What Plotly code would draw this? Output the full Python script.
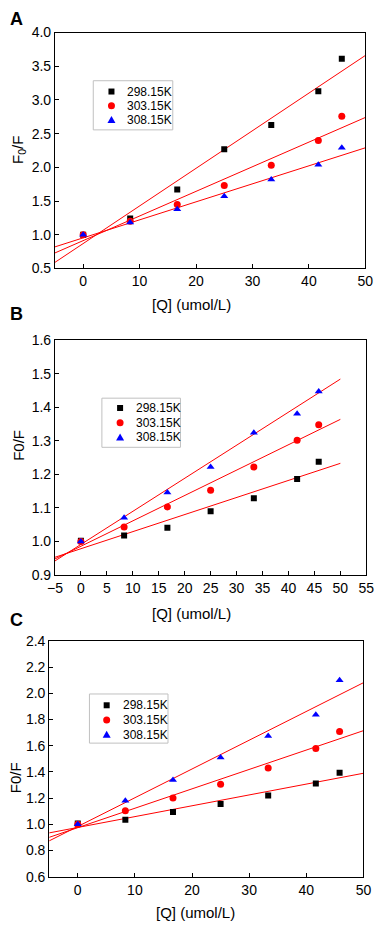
import plotly.graph_objects as go

# ---------------- data ----------------
conc = [0, 8.33, 16.67, 25, 33.33, 41.67, 45.83]
series_names = ["298.15K", "303.15K", "308.15K"]

# Panel A
a_298 = [1.00, 1.24, 1.67, 2.27, 2.63, 3.13, 3.61]
a_303 = [1.00, 1.20, 1.45, 1.73, 2.03, 2.40, 2.76]
a_308 = [1.00, 1.18, 1.38, 1.57, 1.82, 2.04, 2.29]
a_fit_x = [-5, 50]
a_fit_298 = [0.59, 3.66]
a_fit_303 = [0.73, 2.74]
a_fit_308 = [0.82, 2.29]

# Panel B
b_298 = [1.002, 1.018, 1.041, 1.090, 1.129, 1.186, 1.238]
b_303 = [1.000, 1.043, 1.103, 1.153, 1.222, 1.302, 1.348]
b_308 = [1.000, 1.071, 1.146, 1.222, 1.324, 1.381, 1.447]
b_fit_x = [-5, 50]
b_fit_298 = [0.953, 1.233]
b_fit_303 = [0.948, 1.364]
b_fit_308 = [0.942, 1.484]

# Panel C
c_298 = [1.006, 1.036, 1.095, 1.155, 1.220, 1.312, 1.394]
c_303 = [1.000, 1.103, 1.202, 1.307, 1.431, 1.578, 1.708]
c_308 = [1.000, 1.180, 1.339, 1.511, 1.675, 1.837, 2.099]
c_fit_x = [-5, 50]
c_fit_298 = [0.935, 1.390]
c_fit_303 = [0.901, 1.715]
c_fit_308 = [0.874, 2.081]

W, H = 381, 929
FONT = "Liberation Sans, Arial, sans-serif"

marker_styles = [
    dict(symbol="square", color="black", size=6),
    dict(symbol="circle", color="red", size=7),
    dict(symbol="triangle-up", color="blue", size=7),
]

fig = go.Figure()

panels = [
    dict(ax="", data=[a_298, a_303, a_308], fx=a_fit_x,
         fits=[a_fit_298, a_fit_303, a_fit_308]),
    dict(ax="2", data=[b_298, b_303, b_308], fx=b_fit_x,
         fits=[b_fit_298, b_fit_303, b_fit_308]),
    dict(ax="3", data=[c_298, c_303, c_308], fx=c_fit_x,
         fits=[c_fit_298, c_fit_303, c_fit_308]),
]

for p in panels:
    xa, ya = "x" + p["ax"], "y" + p["ax"]
    for fy in p["fits"]:
        fig.add_trace(go.Scatter(x=p["fx"], y=fy, mode="lines", xaxis=xa, yaxis=ya,
                                 line=dict(color="red", width=1), showlegend=False,
                                 hoverinfo="skip"))
    for name, ys, ms in zip(series_names, p["data"], marker_styles):
        fig.add_trace(go.Scatter(x=conc, y=ys, mode="markers", name=name, xaxis=xa, yaxis=ya,
                                 marker=dict(symbol=ms["symbol"], color=ms["color"],
                                             size=ms["size"], line=dict(width=0)),
                                 showlegend=False))

def px_x(a, b):
    return [a / W, b / W]

def px_y(top, bottom):
    return [1 - bottom / H, 1 - top / H]

axis_common = dict(showgrid=False, zeroline=False, showline=True, linecolor="black",
                   linewidth=1, mirror=True, ticks="inside", ticklen=4, tickcolor="black",
                   tickwidth=1, tickfont=dict(family=FONT, size=14, color="black"))

fig.update_layout(
    width=W, height=H,
    margin=dict(l=0, r=0, t=0, b=0),
    paper_bgcolor="white", plot_bgcolor="white",
    font=dict(family=FONT, color="black"),
    showlegend=False,
    xaxis=dict(domain=px_x(49, 373), range=[-5, 50], tickvals=[0, 10, 20, 30, 40, 50],
               anchor="y", **axis_common),
    yaxis=dict(domain=px_y(25, 265), range=[0.5, 4.0], tickvals=[0.5, 1.0, 1.5, 2.0, 2.5, 3.0, 3.5, 4.0],
               ticktext=["0.5", "1.0", "1.5", "2.0", "2.5", "3.0", "3.5", "4.0"], anchor="x", **axis_common),
    xaxis2=dict(domain=px_x(49, 374), range=[-5, 55], tickvals=list(range(-5, 56, 5)),
                anchor="y2", **axis_common),
    yaxis2=dict(domain=px_y(338, 577), range=[0.9, 1.6], tickvals=[0.9, 1.0, 1.1, 1.2, 1.3, 1.4, 1.5, 1.6],
                ticktext=["0.9", "1.0", "1.1", "1.2", "1.3", "1.4", "1.5", "1.6"], anchor="x2", **axis_common),
    xaxis3=dict(domain=px_x(43, 371), range=[-5, 50], tickvals=[0, 10, 20, 30, 40, 50],
                anchor="y3", **axis_common),
    yaxis3=dict(domain=px_y(644, 884), range=[0.6, 2.4], tickvals=[0.6, 0.8, 1.0, 1.2, 1.4, 1.6, 1.8, 2.0, 2.2, 2.4],
                ticktext=["0.6", "0.8", "1.0", "1.2", "1.4", "1.6", "1.8", "2.0", "2.2", "2.4"], anchor="x3", **axis_common),
)

# ---------------- legends (drawn as box + symbols + text) ----------------
legend_boxes = [
    dict(x0=89, x1=172, y0=74, y1=124, sym_x=108, text_x=122, rows=[85, 99.5, 114]),
    dict(x0=98, x1=180, y0=397, y1=447, sym_x=117, text_x=132, rows=[407, 422, 437]),
    dict(x0=85, x1=167, y0=698, y1=748, sym_x=103, text_x=118, rows=[709.5, 724.5, 739.5]),
]
for lb in legend_boxes:
    fig.add_shape(type="rect", xref="paper", yref="paper",
                  x0=lb["x0"] / W, x1=lb["x1"] / W, y0=1 - lb["y1"] / H, y1=1 - lb["y0"] / H,
                  line=dict(color="#c0c0c0", width=1), fillcolor="white", layer="above")
    for name, ms, ry in zip(series_names, marker_styles, lb["rows"]):
        common = dict(xref="paper", yref="paper", xsizemode="pixel", ysizemode="pixel",
                      xanchor=lb["sym_x"] / W, yanchor=1 - ry / H,
                      line=dict(width=0), fillcolor=ms["color"], layer="above")
        if ms["symbol"] == "square":
            fig.add_shape(type="rect", x0=-3, x1=3, y0=-3, y1=3, **common)
        elif ms["symbol"] == "circle":
            fig.add_shape(type="circle", x0=-3.5, x1=3.5, y0=-3.5, y1=3.5, **common)
        else:
            fig.add_shape(type="path", path="M-4,-3 L4,-3 L0,4 Z", **common)
        fig.add_annotation(text=name, x=lb["text_x"] / W, y=1 - ry / H, xref="paper", yref="paper",
                           showarrow=False, xanchor="left", yanchor="middle",
                           font=dict(family=FONT, size=12, color="black"))

annos = [
    dict(text="<b>A</b>", x=9, y=11, size=18),
    dict(text="<b>B</b>", x=9, y=311, size=18),
    dict(text="<b>C</b>", x=9, y=623, size=18),
    dict(text="[Q] (umol/L)", x=192, y=302, size=15),
    dict(text="[Q] (umol/L)", x=192, y=616, size=15),
    dict(text="[Q] (umol/L)", x=196, y=920, size=15),
]
for a in annos:
    fig.add_annotation(text=a["text"], x=a["x"] / W, y=1 - a["y"] / H, xref="paper", yref="paper",
                       showarrow=False, xanchor="center", yanchor="middle",
                       font=dict(family=FONT, size=a["size"], color="black"))

ytitles = [
    dict(text="F<sub>0</sub>/F", x=11, y=145),
    dict(text="F0/F", x=11, y=445),
    dict(text="F0/F", x=8, y=783),
]
for a in ytitles:
    fig.add_annotation(text=a["text"], x=a["x"] / W, y=1 - a["y"] / H, xref="paper", yref="paper",
                       showarrow=False, xanchor="center", yanchor="middle", textangle=-90,
                       font=dict(family=FONT, size=15, color="black"))

fig.write_html("out.html", config={"displayModeBar": False},
               post_script="document.body.style.margin='0';document.body.style.overflow='hidden';")
